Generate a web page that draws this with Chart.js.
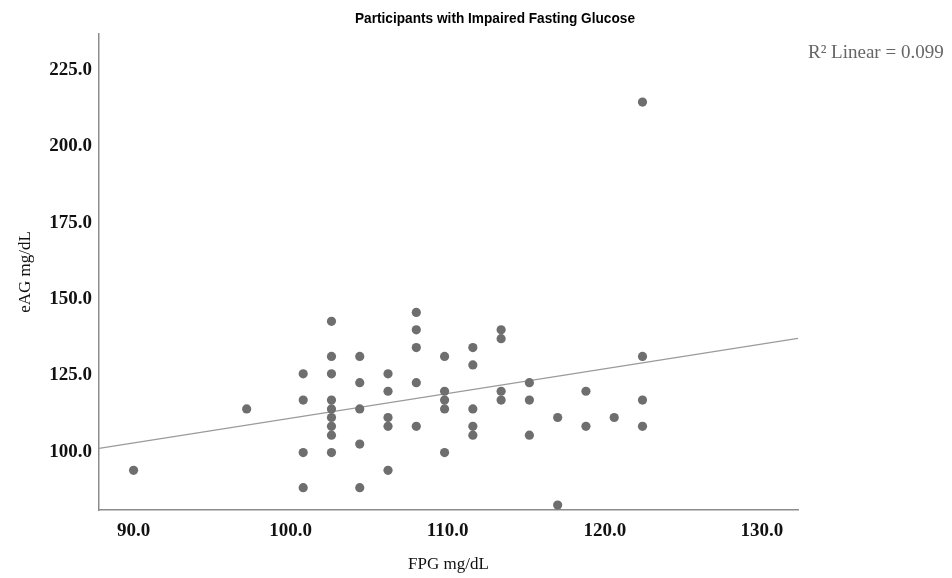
<!DOCTYPE html>
<html>
<head>
<meta charset="utf-8">
<script src="https://cdn.jsdelivr.net/npm/chart.js@4/dist/chart.umd.min.js"></script>
<style>
  body { margin: 0; background: #fff; }
  #wrap { width: 952px; height: 578px; }
</style>
</head>
<body>
<div id="wrap"><canvas id="scatter" width="952" height="578"></canvas></div>
<script>
// FPG (mg/dL) and eAG (mg/dL)
const fpg = [
  90.0,
  97.2,
  100.8, 100.8, 100.8, 100.8,
  102.6, 102.6, 102.6, 102.6, 102.6, 102.6, 102.6, 102.6, 102.6,
  104.4, 104.4, 104.4, 104.4, 104.4,
  106.2, 106.2, 106.2, 106.2, 106.2,
  108.0, 108.0, 108.0, 108.0, 108.0,
  109.8, 109.8, 109.8, 109.8, 109.8,
  111.6, 111.6, 111.6, 111.6, 111.6,
  113.4, 113.4, 113.4, 113.4,
  115.2, 115.2, 115.2,
  117.0, 117.0,
  118.8, 118.8,
  120.6,
  122.4, 122.4, 122.4, 122.4
];
const eag = [
  93.9,
  114.0,
  125.5, 116.9, 99.7, 88.2,
  142.7, 131.2, 125.5, 116.9, 114.0, 111.2, 108.3, 105.4, 99.7,
  131.2, 122.6, 114.0, 102.5, 88.2,
  125.5, 119.8, 111.2, 108.3, 93.9,
  145.6, 139.9, 134.1, 122.6, 108.3,
  131.2, 119.8, 116.9, 114.0, 99.7,
  134.1, 128.4, 114.0, 108.3, 105.4,
  139.9, 137.0, 119.8, 116.9,
  122.6, 116.9, 105.4,
  111.2, 82.5,
  119.8, 108.3,
  111.2,
  214.5, 131.2, 116.9, 108.3
];

// fit line as drawn (ends at the axis limits)
const fitX = [87.8, 132.3];
const fitY = [101.1, 137.1];

const xTicks = [90, 100, 110, 120, 130];
const yTicks = [100, 125, 150, 175, 200, 225];

const chartTitle = 'Participants with Impaired Fasting Glucose';
const fitLabel = 'R² Linear = 0.099';

const points = fpg.map((x, i) => ({ x: x, y: eag[i] }));
const fitPoints = fitX.map((x, i) => ({ x: x, y: fitY[i] }));

// squeeze text horizontally to get the narrow look of the original
function narrowText(ctx, text, cx, cy, width) {
  const w = ctx.measureText(text).width;
  ctx.save();
  ctx.translate(cx, cy);
  ctx.scale(width / w, 1);
  ctx.fillText(text, 0, 0);
  ctx.restore();
}

const annotate = {
  id: 'annotate',
  afterDraw(chart) {
    const ctx = chart.ctx;
    ctx.save();
    ctx.fillStyle = '#000';
    ctx.font = 'bold 15px "Liberation Sans", Arial, sans-serif';
    ctx.textAlign = 'center';
    ctx.textBaseline = 'middle';
    narrowText(ctx, chartTitle, 495, 19, 280);
    ctx.fillStyle = '#666';
    ctx.font = '19px "Liberation Serif", "Times New Roman", serif';
    ctx.textAlign = 'left';
    ctx.fillText(fitLabel, 808, 53);
    ctx.restore();
  }
};

const tickFont = { family: '"Liberation Serif", "Times New Roman", serif', size: 19, weight: 'bold' };
const axisTitleFont = { family: '"Liberation Serif", "Times New Roman", serif', size: 17 };

new Chart(document.getElementById('scatter').getContext('2d'), {
  type: 'scatter',
  data: {
    datasets: [
      {
        label: 'Observed',
        data: points,
        backgroundColor: '#6e6e6e',
        borderWidth: 0,
        pointRadius: 4.6,
        pointHoverRadius: 4.6
      },
      {
        type: 'line',
        label: 'Linear',
        data: fitPoints,
        borderColor: '#9a9a9a',
        borderWidth: 1.3,
        pointRadius: 0,
        fill: false
      }
    ]
  },
  options: {
    responsive: false,
    animation: false,
    layout: { padding: { top: 34, right: 154, left: 0, bottom: 0 } },
    plugins: {
      legend: { display: false },
      tooltip: { enabled: false }
    },
    scales: {
      x: {
        type: 'linear',
        min: 87.8,
        max: 132.3,
        grid: { display: false, drawTicks: false },
        border: { display: true, color: '#8c8c8c', width: 1.5 },
        ticks: { color: '#111', font: tickFont, padding: 10, maxRotation: 0,
          callback: v => Number(v).toFixed(1) },
        afterBuildTicks: s => { s.ticks = xTicks.map(v => ({ value: v })); },
        afterFit: s => { s.height = 68; },
        title: { display: true, text: 'FPG mg/dL', color: '#111', font: axisTitleFont, padding: { top: 0, bottom: 3 } }
      },
      y: {
        type: 'linear',
        min: 80.9,
        max: 236.8,
        grid: { display: false, drawTicks: false },
        border: { display: true, color: '#8c8c8c', width: 1.5 },
        ticks: { color: '#111', font: tickFont, padding: 7,
          callback: v => Number(v).toFixed(1) },
        afterBuildTicks: s => { s.ticks = yTicks.map(v => ({ value: v })); },
        afterFit: s => { s.width = 99; },
        title: { display: true, text: 'eAG mg/dL', color: '#111', font: axisTitleFont, padding: { top: 15, bottom: 0 } }
      }
    }
  },
  plugins: [annotate]
});
</script>
</body>
</html>
